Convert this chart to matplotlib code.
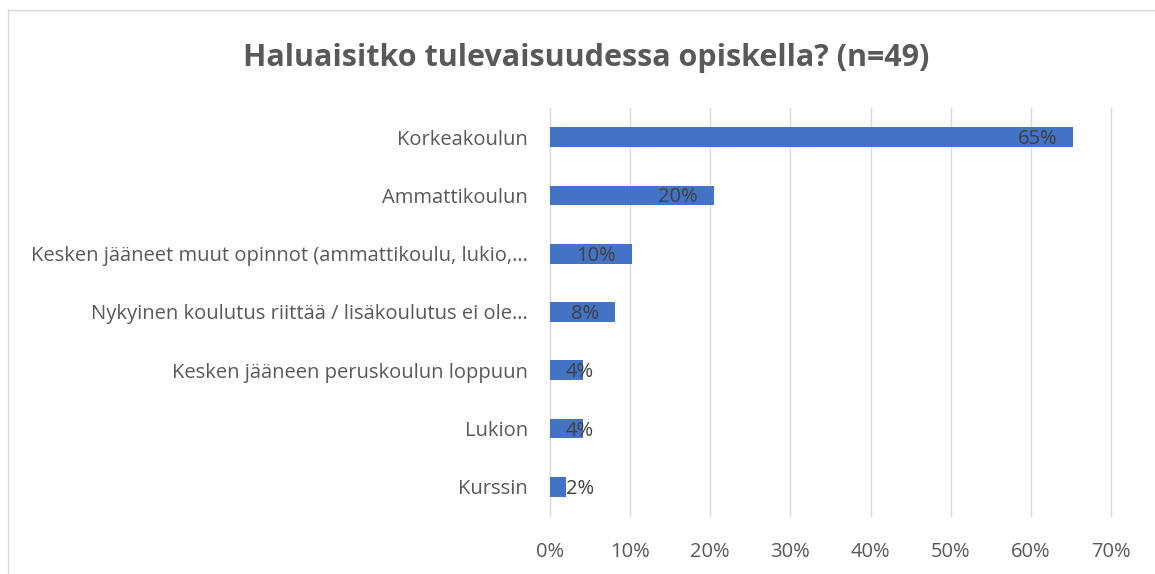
import matplotlib
matplotlib.use('Agg')
import matplotlib.pyplot as plt
from matplotlib.lines import Line2D
from matplotlib.ticker import PercentFormatter

categories = [
    'Korkeakoulun',
    'Ammattikoulun',
    'Kesken jääneet muut opinnot (ammattikoulu, lukio,…',
    'Nykyinen koulutus riittää / lisäkoulutus ei ole…',
    'Kesken jääneen peruskoulun loppuun',
    'Lukion',
    'Kurssin',
]
counts = [32, 10, 5, 4, 2, 2, 1]
n_total = 49
shares = [c / n_total * 100 for c in counts]
xticks = [0, 10, 20, 30, 40, 50, 60, 70]

plt.rcParams['font.family'] = ['Open Sans', 'DejaVu Sans']

fig = plt.figure(figsize=(11.55, 5.74), dpi=100)
ax = fig.add_axes([550 / 1155, 58 / 574, 561 / 1155, 408 / 574])

ypos = list(range(len(categories)))[::-1]
ax.barh(ypos, shares, height=0.34, color='#4472C4', zorder=3)

ax.set_xlim(0, 70)
ax.set_ylim(-0.5, len(categories) - 0.5)
ax.set_xticks(xticks)
ax.xaxis.set_major_formatter(PercentFormatter(decimals=0))
ax.set_yticks(ypos)
ax.set_yticklabels(categories)
ax.grid(axis='x', color='#d9d9d9', linewidth=1.0, zorder=0)
for line in ax.get_xgridlines():
    line.set_clip_on(False)
for s in ax.spines.values():
    s.set_visible(False)
ax.tick_params(axis='both', length=0, colors='#595959', labelsize=14.5)
ax.tick_params(axis='y', pad=16)
ax.tick_params(axis='x', pad=19)

# data labels: inside end, pushed right when the bar is too short
px = 72 / fig.dpi
labels = []
for y, v in zip(ypos, shares):
    t = ax.annotate(f'{v:.0f}%', xy=(v, y), xytext=(-16 * px, -2 * px),
                    textcoords='offset points', ha='right', va='center',
                    fontsize=14.5, color='#404040', zorder=4)
    labels.append(t)
fig.canvas.draw()
x0 = ax.transData.transform((0, 0))[0]
for t, y in zip(labels, ypos):
    bb = t.get_window_extent()
    if bb.x0 < x0 + 16:
        t.xy = (0, y)
        t.set_position((16 * px, -2 * px))
        t.set_ha('left')

fig.text(586 / 1155, 1 - 58 / 574, 'Haluaisitko tulevaisuudessa opiskella? (n=49)',
         ha='center', va='center', fontsize=22, fontweight='bold', color='#595959')

# chart border
fig.add_artist(Line2D([8 / 1155, 1.0], [1 - 10 / 574] * 2, color='#d9d9d9', lw=1))
fig.add_artist(Line2D([8 / 1155] * 2, [0, 1 - 10 / 574], color='#d9d9d9', lw=1))

fig.savefig('out.png', dpi=100)
